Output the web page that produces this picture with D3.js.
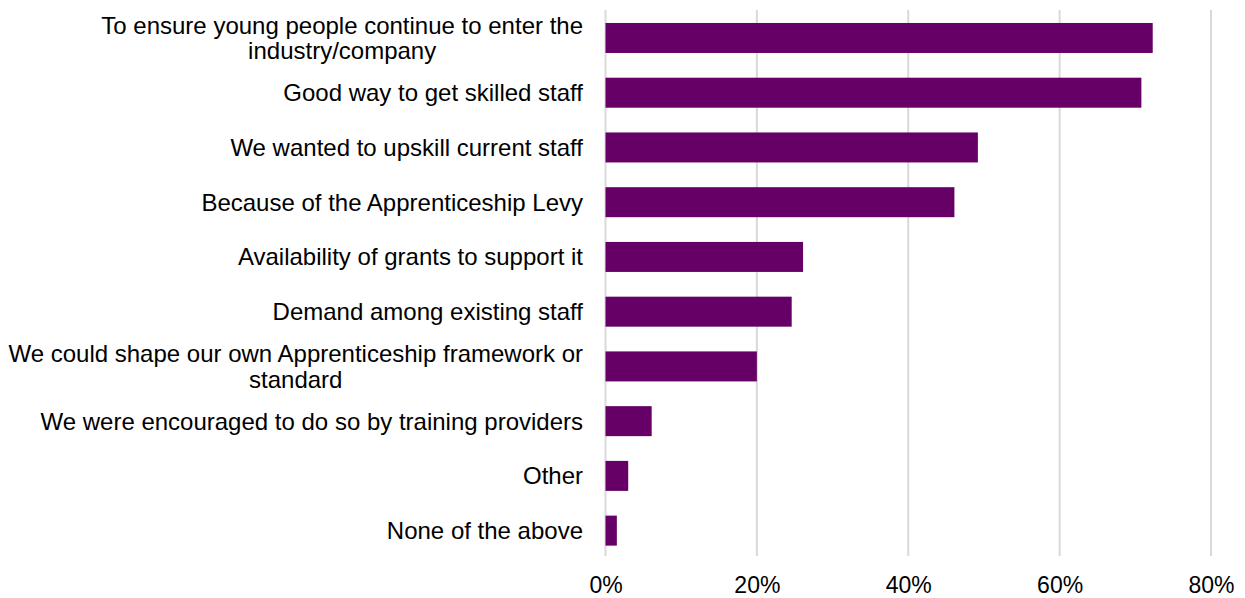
<!DOCTYPE html>
<html>
<head>
<meta charset="utf-8">
<script src="https://cdn.jsdelivr.net/npm/d3@7"></script>
<style>
  html, body { margin: 0; padding: 0; background: #ffffff; }
  svg { display: block; }
  text { font-family: "Liberation Sans", Arial, sans-serif; fill: #000; }
</style>
</head>
<body>
<svg id="chart" width="1245" height="598"></svg>
<script>
// Reasons for offering apprenticeships (share of respondents)
const categories = [
  ["To ensure young people continue to enter the", "industry/company"],
  ["Good way to get skilled staff"],
  ["We wanted to upskill current staff"],
  ["Because of the Apprenticeship Levy"],
  ["Availability of grants to support it"],
  ["Demand among existing staff"],
  ["We could shape our own Apprenticeship framework or", "standard"],
  ["We were encouraged to do so by training providers"],
  ["Other"],
  ["None of the above"]
];
const values = [72.3, 70.8, 49.2, 46.1, 26.1, 24.6, 20.0, 6.1, 3.0, 1.5];
const tickValues = [0, 20, 40, 60, 80];

const svg = d3.select("#chart");
const margin = { left: 605.5, right: 34, top: 10.6 };
const width = 1245;
const plotBottom = 558;

const x = d3.scaleLinear().domain([0, 80]).range([margin.left, width - margin.right]);
const y = d3.scaleBand()
  .domain(d3.range(categories.length))
  .range([margin.top, plotBottom])
  .paddingInner(0.452)
  .paddingOuter(0.226);

// vertical gridlines
svg.append("g")
  .selectAll("line")
  .data(tickValues)
  .join("line")
  .attr("x1", d => x(d)).attr("x2", d => x(d))
  .attr("y1", 10).attr("y2", 556)
  .attr("stroke", "#d9d9d9")
  .attr("stroke-width", 2);

// bars
svg.append("g")
  .selectAll("rect")
  .data(values)
  .join("rect")
  .attr("x", x(0))
  .attr("y", (d, i) => y(i))
  .attr("width", d => x(d) - x(0))
  .attr("height", y.bandwidth())
  .attr("fill", "#660066");

// x axis tick labels
const xAxis = d3.axisBottom(x)
  .tickValues(tickValues)
  .tickFormat(d => d + "%")
  .tickSize(0)
  .tickPadding(0);
const gx = svg.append("g")
  .attr("transform", "translate(0, 593)")
  .call(xAxis);
gx.select(".domain").remove();
gx.selectAll("text")
  .attr("dy", 0)
  .attr("y", 0)
  .style("font-size", "23px")
  .style("font-family", "'Liberation Sans', Arial, sans-serif")
  .attr("fill", "#000");

// category labels: right-aligned block, lines centred within the block
const labelRight = 583;
const lineH = 25.7;
const lg = svg.append("g");
categories.forEach((lines, i) => {
  const cy = y(i) + y.bandwidth() / 2;
  const t = lg.append("text")
    .style("font-size", "24px");
  lines.forEach(s => {
    t.append("tspan").text(s);
  });
  let maxW = 0;
  t.selectAll("tspan").each(function () {
    maxW = Math.max(maxW, this.getComputedTextLength());
  });
  const cx = labelRight - maxW / 2;
  const n = lines.length;
  t.attr("text-anchor", "middle");
  t.selectAll("tspan")
    .attr("x", cx)
    .attr("y", (d, j) => cy + (j - (n - 1) / 2) * lineH)
    .attr("dy", "0.35em");
});
</script>
</body>
</html>
